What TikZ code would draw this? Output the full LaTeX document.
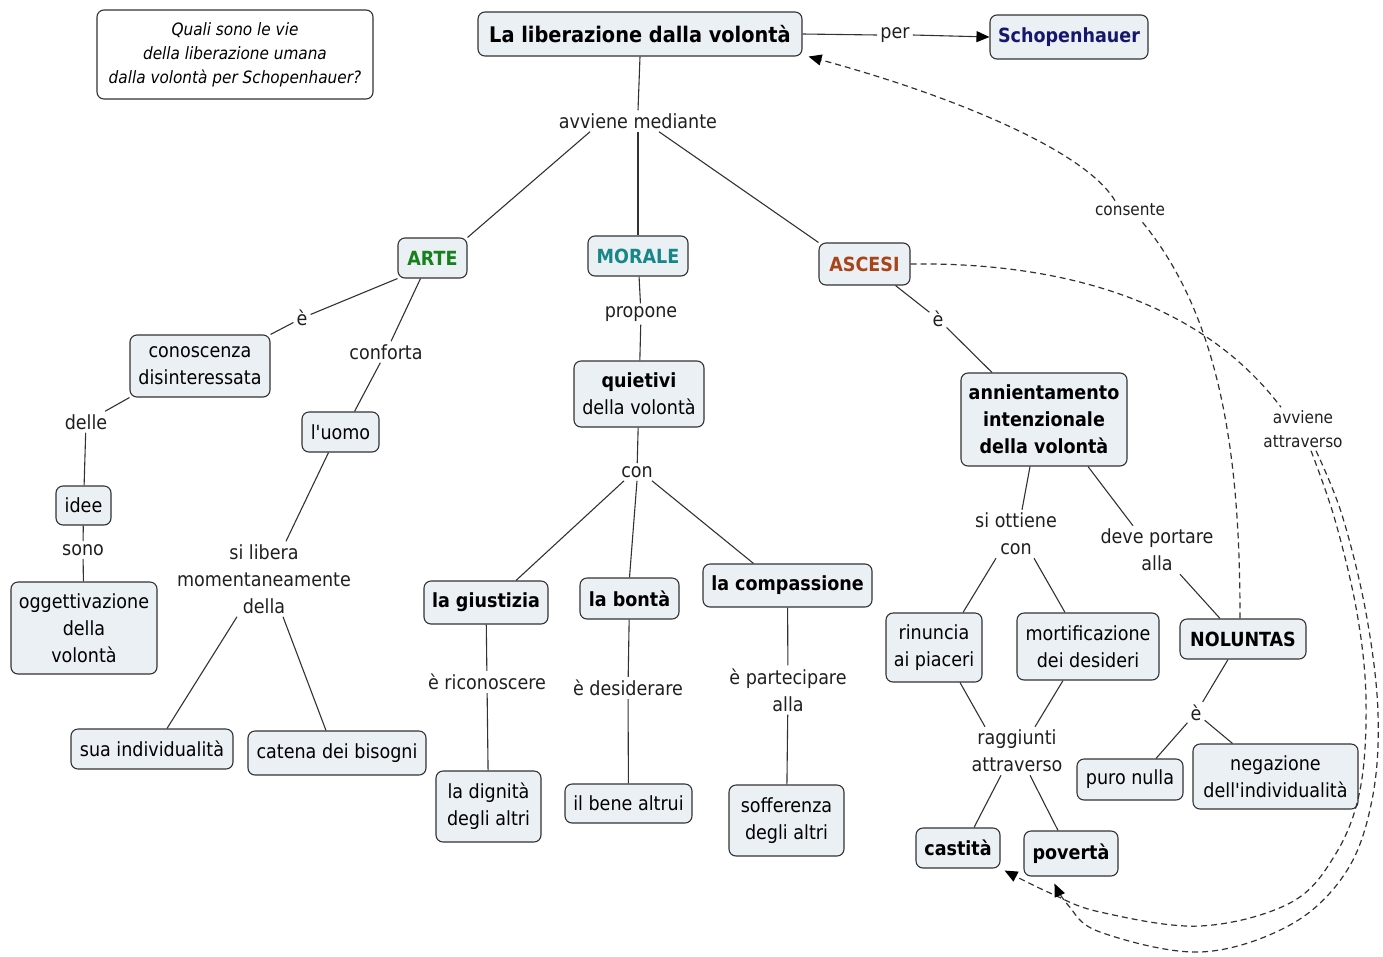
\documentclass[tikz,border=0pt]{standalone}
\usepackage{fontspec}
\setmainfont{DejaVu Sans Condensed}[
  BoldFont={DejaVu Sans Condensed Bold},
  ItalicFont={DejaVu Sans Condensed Oblique}]
\usetikzlibrary{arrows.meta,calc}
\definecolor{boxfill}{RGB}{234,240,244}
\definecolor{boxline}{RGB}{50,50,50}
\definecolor{linecol}{RGB}{50,50,50}
\definecolor{artecol}{RGB}{22,128,28}
\definecolor{moralecol}{RGB}{22,134,134}
\definecolor{ascesicol}{RGB}{168,68,24}
\definecolor{schopcol}{RGB}{22,22,110}
\begin{document}
\begin{tikzpicture}[x=1pt,y=-1pt,
  every node/.style={font=\fontsize{19.5}{27}\selectfont},
  box/.style={draw=boxline, fill=boxfill, rounded corners=7pt, line width=1.1pt,
    align=center, inner sep=0pt, text=black},
  bold/.style={font=\bfseries\fontsize{19.5}{27}\selectfont},
  sz/.style 2 args={minimum width=#1pt, minimum height=#2pt},
  lab/.style={align=center, inner sep=3pt, text=black!88},
  small/.style={font=\fontsize{17}{24}\selectfont},
  link/.style={draw=linecol, line width=1.1pt},
  dlink/.style={draw=linecol, line width=1.2pt, dash pattern=on 6pt off 4pt},
  tip/.style={-{Triangle[length=13pt,width=11pt,black]}},
]
\useasboundingbox (0,0) rectangle (1383,956);

% question box
\node[box, fill=white, sz={276}{89}, font=\itshape\fontsize{17}{24}\selectfont]
  (q) at (235,54.5) {Quali sono le vie\\della liberazione umana\\dalla volontà per Schopenhauer?};

% main concepts
\node[box, sz={324}{44}, font=\bfseries\fontsize{21.5}{27}\selectfont] (title) at (640,34) {La liberazione dalla volontà};
\node[box, sz={158}{44}, bold, text=schopcol] (schop) at (1069,37) {Schopenhauer};
\node[box, sz={69}{40}, bold, text=artecol] (arte) at (432.5,258) {ARTE};
\node[box, sz={100}{40}, bold, text=moralecol] (morale) at (638,256) {MORALE};
\node[box, sz={91}{42}, bold, text=ascesicol] (ascesi) at (864.5,264) {ASCESI};

% ARTE branch
\node[box, sz={140}{62}] (kon) at (200,366) {conoscenza\\disinteressata};
\node[box, sz={77}{40}] (uomo) at (340.5,432) {l\textquotesingle uomo};
\node[box, sz={55}{39}] (idee) at (83.5,505.5) {idee};
\node[box, sz={146}{92}] (ogg) at (84,628) {oggettivazione\\della\\volontà};
\node[box, sz={162}{40}] (sua) at (152,749) {sua individualità};
\node[box, sz={178}{44}] (cat) at (337,753) {catena dei bisogni};

% MORALE branch
\node[box, sz={130}{66}] (quiet) at (639,394) {{\bfseries quietivi}\\della volontà};
\node[box, sz={124}{43}, bold] (giust) at (486,602.5) {la giustizia};
\node[box, sz={99}{41}, bold] (bonta) at (629.5,598.5) {la bontà};
\node[box, sz={169}{43}, bold] (comp) at (787.5,585.5) {la compassione};
\node[box, sz={105}{71}] (dign) at (488.5,806.5) {la dignità\\degli altri};
\node[box, sz={127}{39}] (bene) at (628.5,803.5) {il bene altrui};
\node[box, sz={115}{71}] (soff) at (786.5,820.5) {sofferenza\\degli altri};

% ASCESI branch
\node[box, sz={166}{93}, bold] (ann) at (1044,419.5) {annientamento\\intenzionale\\della volontà};
\node[box, sz={126}{40}, bold] (nol) at (1243,639) {NOLUNTAS};
\node[box, sz={96}{69}] (rin) at (934,647.5) {rinuncia\\ai piaceri};
\node[box, sz={142}{67}] (mort) at (1088,646.5) {mortificazione\\dei desideri};
\node[box, sz={84}{40}, bold] (cast) at (958,848) {castità};
\node[box, sz={94}{45}, bold] (pov) at (1071,853.5) {povertà};
\node[box, sz={106}{41}] (puro) at (1130,779.5) {puro nulla};
\node[box, sz={165}{65}] (neg) at (1275.5,776.5) {negazione\\dell\textquotesingle individualità};

% linking phrases
\node[lab] (per) at (895,35) {per};
\node[lab] (avv) at (638,121) {avviene mediante};
\node[lab] (e1) at (302,318) {è};
\node[lab] (conf) at (386,352) {conforta};
\node[lab] (delle) at (86,422) {delle};
\node[lab] (sono) at (83,550) {sono};
\node[lab] (silib) at (264,579) {si libera\\momentaneamente\\della};
\node[lab] (prop) at (641,314) {propone};
\node[lab] (con1) at (637,472) {con};
\node[lab] (ric) at (487,682) {è riconoscere};
\node[lab] (des) at (628,688) {è desiderare};
\node[lab] (part) at (788,690) {è partecipare\\alla};
\node[lab] (e2) at (938,319) {è};
\node[lab] (sio) at (1016,534) {si ottiene\\con};
\node[lab] (deve) at (1157,550) {deve portare\\alla};
\node[lab] (rag) at (1017,751) {raggiunti\\attraverso};
\node[lab] (e3) at (1196,713) {è};
\node[lab, small] (cons) at (1130,210) {consente};
\node[lab, small] (avv2) at (1303,429) {avviene\\attraverso};

% solid connectors
\draw[link] (title.east) -- (per.west);
\draw[link, tip] (per.east) -- (schop.west);
\draw[link] (title.south) -- (avv.north);
\draw[link] ([xshift=-48pt]avv.south) -- (arte.north east);
\draw[link] (avv.south) -- (morale.north);
\draw[link] ([xshift=21pt]avv.south) -- (ascesi.north west);

\draw[link] (arte.south west) -- (e1);
\draw[link] (e1) -- (kon.north east);
\draw[link] ([xshift=-12pt]arte.south) -- (conf);
\draw[link] (conf) -- ([xshift=14pt]uomo.north);
\draw[link] (kon.south west) -- (delle);
\draw[link] (delle) -- (idee);
\draw[link] (idee) -- (sono);
\draw[link] (sono) -- (ogg);
\draw[link] ([xshift=-12pt]uomo.south) -- ([xshift=22pt]silib.north);
\draw[link] ([xshift=-27pt]silib.south) -- ([xshift=15pt]sua.north);
\draw[link] ([xshift=19pt]silib.south) -- ([xshift=-11pt]cat.north);

\draw[link] (morale) -- (prop);
\draw[link] (prop) -- (quiet);
\draw[link] (quiet) -- (con1);
\draw[link] ([xshift=-13pt]con1.south) -- ([xshift=30pt]giust.north);
\draw[link] (con1.south) -- (bonta.north);
\draw[link] ([xshift=15pt]con1.south) -- ([xshift=-34pt]comp.north);
\draw[link] (giust) -- (ric);
\draw[link] (ric) -- (dign);
\draw[link] (bonta) -- (des);
\draw[link] (des) -- (bene);
\draw[link] (comp) -- (part);
\draw[link] (part) -- (soff);

\draw[link] ([xshift=31pt]ascesi.south) -- (e2);
\draw[link] (e2) -- ([xshift=-52pt]ann.north);
\draw[link] ([xshift=-14pt]ann.south) -- ([xshift=6pt]sio.north);
\draw[link] ([xshift=44pt]ann.south) -- ([xshift=-24pt]deve.north);
\draw[link] ([xshift=23pt]deve.south) -- ([xshift=-23pt]nol.north);
\draw[link] ([xshift=-20pt]sio.south) -- ([xshift=29pt]rin.north);
\draw[link] ([xshift=18pt]sio.south) -- ([xshift=-23pt]mort.north);
\draw[link] ([xshift=26pt]rin.south) -- ([xshift=-32pt]rag.north);
\draw[link] ([xshift=-25pt]mort.south) -- ([xshift=18pt]rag.north);
\draw[link] ([xshift=-16pt]rag.south) -- ([xshift=16pt]cast.north);
\draw[link] ([xshift=13pt]rag.south) -- ([xshift=-13pt]pov.north);
\draw[link] ([xshift=-15pt]nol.south) -- (e3);
\draw[link] (e3) -- ([xshift=26pt]puro.north);
\draw[link] (e3) -- ([xshift=-43pt]neg.north);

% dashed cross links
\draw[dlink] ([xshift=-3pt]nol.north) .. controls (1240,470) and (1225,320) .. ([xshift=10pt]cons.south);
\draw[dlink, tip] ([xshift=-15pt]cons.north) .. controls (1085,150) and (950,95) .. ([xshift=6pt]title.south east);
\draw[dlink] (ascesi.east) .. controls (1060,262) and (1200,300) .. ([xshift=-22pt]avv2.north);
\draw[dlink, tip] plot[smooth, tension=0.6] coordinates {([xshift=8pt]avv2.south) (1335,520) (1357,613) (1366,700) (1360,790) (1335,855) (1290,903) (1200,926) (1100,912) (1050,893) ([xshift=4pt,yshift=-2pt]cast.south east)};
\draw[dlink, tip] plot[smooth, tension=0.6] coordinates {([xshift=13pt]avv2.south) (1342,515) (1366,613) (1378,713) (1372,800) (1346,872) (1290,925) (1200,952) (1100,932) (1068,905) ([xshift=31pt,yshift=-7pt]pov.south west)};
\end{tikzpicture}
\end{document}
